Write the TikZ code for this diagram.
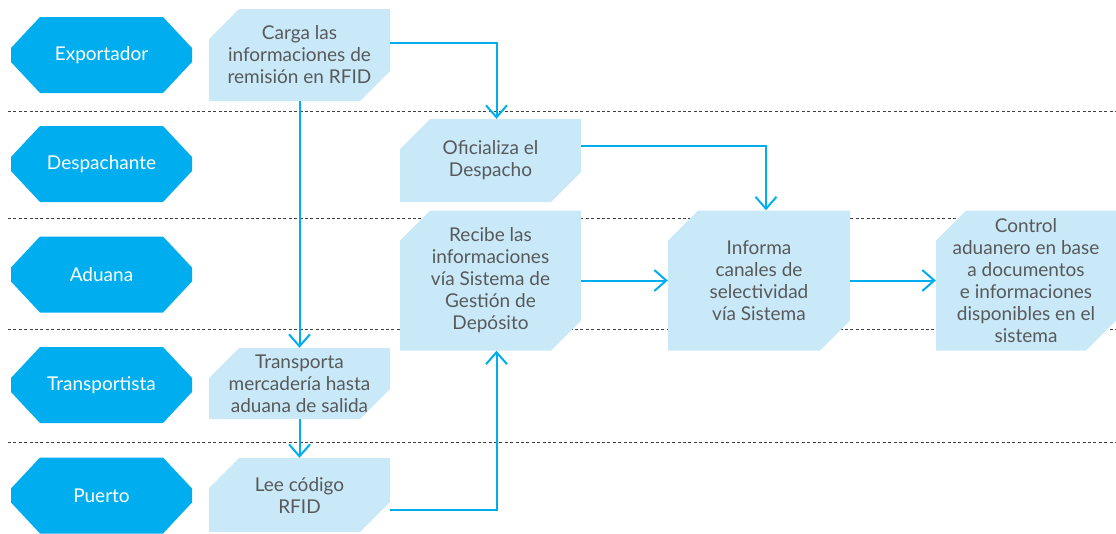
\documentclass[tikz,border=0pt]{standalone}
\usepackage{fontspec}
\setmainfont{Lato}
\usetikzlibrary{arrows.meta}
\definecolor{cyanb}{HTML}{00AEEF}
\definecolor{lightb}{HTML}{C9E9F8}
\definecolor{txtgray}{HTML}{58595B}
\newcommand\ppb{path picture bounding box}
\tikzstyle{actor}=[rectangle,minimum width=181pt,minimum height=76pt,inner sep=0pt,text=white,
  font=\fontsize{19}{22}\selectfont,
  path picture={\fill[cyanb] ([xshift=29pt]\ppb.north west) -- ([xshift=-29pt]\ppb.north east)
    -- ([yshift=-31pt]\ppb.north east) -- ([yshift=31pt]\ppb.south east)
    -- ([xshift=-29pt]\ppb.south east) -- ([xshift=29pt]\ppb.south west)
    -- ([yshift=31pt]\ppb.south west) -- ([yshift=-31pt]\ppb.north west) -- cycle;}]
\tikzstyle{task}=[rectangle,minimum width=181pt,inner sep=0pt,align=center,text=txtgray,
  font=\fontsize{19}{22}\selectfont,
  path picture={\fill[lightb] ([xshift=30pt]\ppb.north west) -- (\ppb.north east)
    -- ([yshift=30pt]\ppb.south east) -- ([xshift=-30pt]\ppb.south east)
    -- (\ppb.south west) -- ([yshift=-30pt]\ppb.north west) -- cycle;}]
\tikzstyle{lane}=[line width=.8pt,black!75,dash pattern=on 3pt off 2.4pt]
\tikzstyle{flow}=[cyanb,line width=2pt,-{Straight Barb[length=12pt,width=21pt,line width=2pt]}]

\begin{document}
\begin{tikzpicture}[x=1pt,y=1pt]
\useasboundingbox (0,0) rectangle (1116,-533);
\foreach \y in {111,218,329,442}
  \draw[lane] (8,-\y) -- (1116,-\y);

\node[actor] (exp)   at (101.5,-55)  {Exportador};
\node[actor] (desp)  at (101.5,-164) {Despachante};
\node[actor] (adu)   at (101.5,-274.5) {Aduana};
\node[actor] (trans) at (101.5,-385) {Transportista};
\node[actor] (pto)   at (101.5,-495.5) {Puerto};

\node[task,minimum height=92pt]  (carga)      at (299.5,-55)    {Carga las\\informaciones de\\remisión en RFID};
\node[task,minimum height=71pt]  (transporta) at (299.5,-383.5) {Transporta\\mercadería hasta\\aduana de salida};
\node[task,minimum height=74pt]  (lee)        at (299.5,-495)   {Lee código\\RFID};
\node[task,minimum height=83pt]  (ofic)       at (490.5,-160.5) {Oficializa el\\Despacho};
\node[task,minimum height=140pt] (recibe)     at (490.5,-280.5) {Recibe las\\informaciones\\vía Sistema de\\Gestión de\\Depósito};
\node[task,minimum height=140pt,minimum width=182pt] (informa) at (759,-280.5) {Informa\\canales de\\selectividad\\vía Sistema};
\node[task,minimum height=140pt,minimum width=180pt] (control) at (1026,-280.5) {Control\\aduanero en base\\a documentos\\e informaciones\\disponibles en el\\sistema};

\draw[flow] ([yshift=12pt]carga.east) -| ([xshift=6pt]ofic.north);
\draw[flow] (carga.south) -- (transporta.north);
\draw[flow] (transporta.south) -- (lee.north);
\draw[flow] ([yshift=-15pt]lee.east) -| ([xshift=6pt]recibe.south);
\draw[flow] ([yshift=15pt]ofic.east) -| ([xshift=7pt]informa.north);
\draw[flow] (recibe.east) -- (informa.west);
\draw[flow] (informa.east) -- (control.west);
\end{tikzpicture}
\end{document}
